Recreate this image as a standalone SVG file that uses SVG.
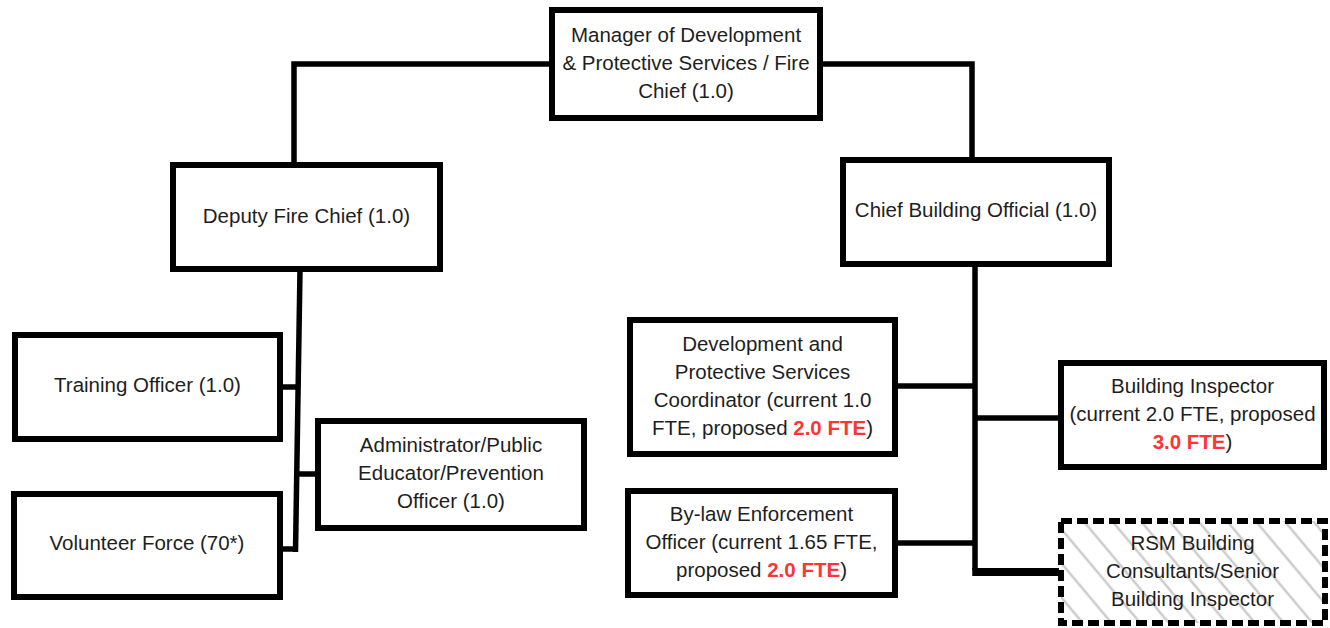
<svg xmlns="http://www.w3.org/2000/svg" width="1330" height="628" viewBox="0 0 1330 628">
  <style>
    .box { fill: #ffffff; stroke: #000000; stroke-width: 6; }
    .dash { fill: url(#hatch); stroke: #000000; stroke-width: 6; stroke-dasharray: 11 5; }
    .t { font-family: "Liberation Sans", Arial, sans-serif; font-size: 20.5px; fill: #1e1e1e; text-anchor: middle; }
    .red { fill: #ff3535; font-weight: bold; }
    .conn { fill: none; stroke: #000000; stroke-width: 5.5; stroke-linecap: square; stroke-linejoin: miter; }
    .br { fill: none; stroke: #000000; stroke-width: 5.5; stroke-linecap: butt; }
  </style>
  <defs>
    <pattern id="hatch" patternUnits="userSpaceOnUse" width="22" height="22" patternTransform="rotate(-40)">
      <rect width="22" height="22" fill="#ffffff"/>
      <line x1="11" y1="0" x2="11" y2="22" stroke="#cccccc" stroke-width="2.5"/>
    </pattern>
  </defs>
  <rect width="1330" height="628" fill="#ffffff"/>

  <g id="connectors">
    <path class="conn" d="M 549 64 H 294 V 162"/>
    <path class="conn" d="M 823 64 H 972 V 157"/>
    <path class="br" d="M 300 270 L 295.5 552"/>
    <path class="br" d="M 282 387 H 299"/>
    <path class="br" d="M 298 474 H 316"/>
    <path class="br" d="M 282 549 H 296"/>
    <path class="br" d="M 975 266 V 570"/>
    <path class="br" d="M 897 386 H 975"/>
    <path class="br" d="M 975 418 H 1059"/>
    <path class="br" d="M 897 543 H 975"/>
    <path class="br" style="stroke-width:8" d="M 972.25 572 H 1059"/>
  </g>

  <g id="manager">
    <rect class="box" x="552" y="10" width="268" height="108"/>
    <text class="t" x="686" y="42">Manager of Development</text>
    <text class="t" x="686" y="70">&amp; Protective Services / Fire</text>
    <text class="t" x="686" y="98">Chief (1.0)</text>
  </g>

  <g id="deputy">
    <rect class="box" x="173" y="165" width="267" height="104"/>
    <text class="t" x="306.5" y="223">Deputy Fire Chief (1.0)</text>
  </g>

  <g id="chief-building">
    <rect class="box" x="843" y="160" width="266" height="104"/>
    <text class="t" x="976" y="217">Chief Building Official (1.0)</text>
  </g>

  <g id="training">
    <rect class="box" x="15" y="335" width="265" height="104"/>
    <text class="t" x="147.5" y="392">Training Officer (1.0)</text>
  </g>

  <g id="volunteer">
    <rect class="box" x="14" y="494" width="266" height="103"/>
    <text class="t" x="147" y="550">Volunteer Force (70*)</text>
  </g>

  <g id="admin">
    <rect class="box" x="318" y="421" width="266" height="107"/>
    <text class="t" x="451" y="452">Administrator/Public</text>
    <text class="t" x="451" y="480">Educator/Prevention</text>
    <text class="t" x="451" y="508">Officer (1.0)</text>
  </g>

  <g id="dev-coordinator">
    <rect class="box" x="630" y="320" width="265" height="134"/>
    <text class="t" x="762.5" y="351">Development and</text>
    <text class="t" x="762.5" y="379">Protective Services</text>
    <text class="t" x="762.5" y="407">Coordinator (current 1.0</text>
    <text class="t" x="762.5" y="435">FTE, proposed <tspan class="red">2.0 FTE</tspan>)</text>
  </g>

  <g id="bylaw">
    <rect class="box" x="628" y="491" width="267" height="104"/>
    <text class="t" x="761.5" y="521">By-law Enforcement</text>
    <text class="t" x="761.5" y="549">Officer (current 1.65 FTE,</text>
    <text class="t" x="761.5" y="577">proposed <tspan class="red">2.0 FTE</tspan>)</text>
  </g>

  <g id="building-inspector">
    <rect class="box" x="1061" y="363" width="263" height="104"/>
    <text class="t" x="1192.5" y="393">Building Inspector</text>
    <text class="t" x="1192.5" y="421">(current 2.0 FTE, proposed</text>
    <text class="t" x="1192.5" y="449"><tspan class="red">3.0 FTE</tspan>)</text>
  </g>

  <g id="rsm">
    <rect class="dash" x="1061" y="521" width="264" height="102"/>
    <text class="t" x="1192.5" y="550">RSM Building</text>
    <text class="t" x="1192.5" y="578">Consultants/Senior</text>
    <text class="t" x="1192.5" y="606">Building Inspector</text>
  </g>
</svg>
